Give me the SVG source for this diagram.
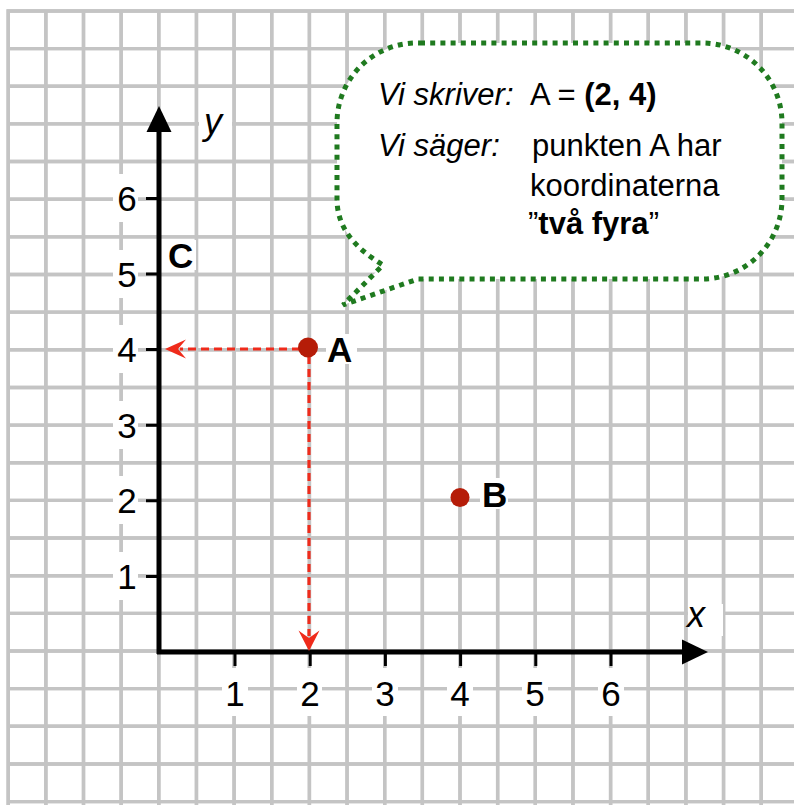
<svg xmlns="http://www.w3.org/2000/svg" width="794" height="805" viewBox="0 0 794 805">
<defs>
<style>
.gA{stroke:#c4c4c4;stroke-width:3.4;fill:none}
.gB{stroke:#e0e0e0;stroke-width:1.3;fill:none}
.ax{stroke:#000;stroke-width:5;fill:none}
.tk{stroke:#000;stroke-width:3;fill:none}
.num{font-family:"Liberation Sans",Arial,sans-serif;font-size:35px;fill:#000;text-anchor:middle}
.lbl{font-family:"Liberation Sans",Arial,sans-serif;font-size:35px;font-weight:bold;fill:#000}
.axl{font-family:"Liberation Sans",Arial,sans-serif;font-size:36px;font-style:italic;fill:#000}
.bt{font-family:"Liberation Sans",Arial,sans-serif;font-size:31px;fill:#000}
.it{font-style:italic}
.b{font-weight:bold}
.bg{fill:#fff}
.red{stroke:#ef2b1b;stroke-width:3.2;stroke-dasharray:8 5;fill:none}
.redh{fill:#ef2b1b}
.pt{fill:#b51c08}
.bub{fill:#fff;stroke:#1f7a1f;stroke-width:5;stroke-dasharray:5 5.2}
</style>
</defs>
<rect width="794" height="805" fill="#fff"/>
<g id="grid">
<path id="gridpath" class="gA" d="M8.2 9.2V805M45.85 9.2V805M83.5 9.2V805M121.15 9.2V805M158.8 9.2V805M196.45 9.2V805M234.1 9.2V805M271.75 9.2V805M309.4 9.2V805M347.05 9.2V805M384.7 9.2V805M422.35 9.2V805M460 9.2V805M497.65 9.2V805M535.3 9.2V805M572.95 9.2V805M610.6 9.2V805M648.25 9.2V805M685.9 9.2V805M723.55 9.2V805M761.2 9.2V805M6.5 10.95H794M6.5 48.6H794M6.5 86.25H794M6.5 123.9H794M6.5 161.55H794M6.5 199.2H794M6.5 236.85H794M6.5 274.5H794M6.5 312.15H794M6.5 349.8H794M6.5 387.45H794M6.5 425.1H794M6.5 462.75H794M6.5 500.4H794M6.5 538.05H794M6.5 575.7H794M6.5 613.35H794M6.5 651H794M6.5 688.65H794M6.5 726.3H794M6.5 763.95H794M6.5 801.6H794"/>
<use href="#gridpath" class="gB"/>
</g>
<g id="label-bg">
<rect class="bg" x="222" y="668" width="26" height="48"/>
<rect class="bg" x="297" y="668" width="25" height="48"/>
<rect class="bg" x="372" y="668" width="26" height="48"/>
<rect class="bg" x="447" y="668" width="26" height="48"/>
<rect class="bg" x="522" y="668" width="26" height="48"/>
<rect class="bg" x="598" y="668" width="26" height="48"/>
<rect class="bg" x="113" y="174" width="25" height="48"/>
<rect class="bg" x="113" y="250" width="25" height="48"/>
<rect class="bg" x="113" y="325" width="25" height="48"/>
<rect class="bg" x="113" y="401" width="25" height="48"/>
<rect class="bg" x="113" y="476" width="25" height="48"/>
<rect class="bg" x="113" y="552" width="25" height="48"/>
<rect class="bg" x="199" y="104" width="33" height="52"/>
<rect class="bg" x="688" y="604" width="35" height="32"/>
<rect class="bg" x="326" y="334" width="31" height="30"/>
<rect class="bg" x="480" y="478" width="28" height="31"/>
<rect class="bg" x="168" y="240" width="28" height="30"/>
</g>
<g id="bubble">
<path class="bub" d="M420 43H702A80 80 0 0 1 782 123V199A80 80 0 0 1 702 279H418L343 305L383 265C355 248 337 228 337 199V123A80 80 0 0 1 420 43Z"/>
<text class="bt" x="378" y="105"><tspan class="it">Vi skriver:</tspan></text>
<text class="bt" x="530" y="105">A = <tspan class="b">(2, 4)</tspan></text>
<text class="bt" x="378" y="156"><tspan class="it">Vi säger:</tspan></text>
<text class="bt" x="532" y="156">punkten A har</text>
<text class="bt" x="530" y="196">koordinaterna</text>
<text class="bt" x="528" y="234">”<tspan class="b">två fyra</tspan>”</text>
</g>
<g id="axes">
<path class="ax" d="M159 654V128M157 652H686"/>
<path d="M159 106L146.5 132H171.5Z"/>
<path d="M708 652L682 639.5V664.5Z"/>
<path class="tk" d="M235 652V666M310.2 652V666M385.4 652V666M460.6 652V666M535.8 652V666M611 652V666M159 576.4H146M159 500.8H146M159 425.2H146M159 349.6H146M159 274H146M159 198.4H146"/>
<text class="num" x="235" y="706">1</text>
<text class="num" x="310" y="706">2</text>
<text class="num" x="385" y="706">3</text>
<text class="num" x="460" y="706">4</text>
<text class="num" x="535" y="706">5</text>
<text class="num" x="611" y="706">6</text>
<text class="num" x="127" y="588.5">1</text>
<text class="num" x="127" y="513">2</text>
<text class="num" x="127" y="437.5">3</text>
<text class="num" x="127" y="362">4</text>
<text class="num" x="127" y="286.5">5</text>
<text class="num" x="127" y="211">6</text>
<text class="axl" x="204" y="134">y</text>
<text class="axl" x="687" y="627">x</text>
</g>
<g id="connectors">
<path class="red" d="M300 349H180"/>
<path class="redh" d="M165 349L186 339.5L178 349L186 358.5Z"/>
<path class="red" d="M309 356V636"/>
<path class="redh" d="M309 651L298.5 630.5L309 638L319.5 630.5Z"/>
</g>
<g id="point-A">
<circle class="pt" cx="308" cy="347.5" r="10"/>
<text class="lbl" x="327" y="362">A</text>
</g>
<g id="point-B">
<circle class="pt" cx="460" cy="497.5" r="9.5"/>
<text class="lbl" x="482" y="507">B</text>
</g>
<g id="point-C">
<text class="lbl" x="168" y="268">C</text>
</g>
</svg>
